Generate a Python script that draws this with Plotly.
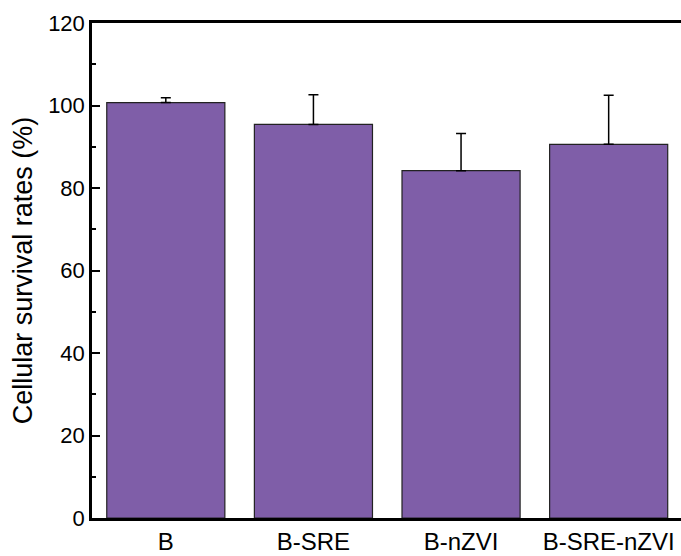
import plotly.graph_objects as go

categories = ["B", "B-SRE", "B-nZVI", "B-SRE-nZVI"]
survival = [100.7, 95.4, 84.2, 90.6]
errors = [1.2, 7.2, 9.0, 11.9]

fig = go.Figure()
fig.add_trace(go.Bar(
    x=categories, y=survival, width=0.8,
    marker=dict(color="#7F5EA8", line=dict(color="#222222", width=1.2)),
    error_y=dict(type="data", array=errors, arrayminus=[0]*len(errors), symmetric=False,
                 color="black", thickness=1.5, width=5),
))

fig.update_layout(
    width=681, height=556,
    margin=dict(l=92, r=0, t=23, b=38),
    paper_bgcolor="white", plot_bgcolor="white",
    font=dict(family="Liberation Sans, Arial, sans-serif", color="black"),
    showlegend=False,
    bargap=0.2,
)
fig.update_xaxes(
    range=[-0.5, 3.49], showline=True, linecolor="black", linewidth=3,
    mirror=True, ticks="", tickfont=dict(size=24), showgrid=False,
)
fig.update_yaxes(
    range=[0, 120], dtick=20, tick0=0, showline=True, linecolor="black", linewidth=2.5,
    ticks="inside", ticklen=8, tickwidth=1.5, tickcolor="black",
    minor=dict(dtick=10, ticks="inside", ticklen=4, tickwidth=1.5, tickcolor="black", showgrid=False),
    tickfont=dict(size=22), showgrid=False, zeroline=False,
    title=dict(text="Cellular survival rates (%)", font=dict(size=27), standoff=8),
)
fig.write_html("out.html")
